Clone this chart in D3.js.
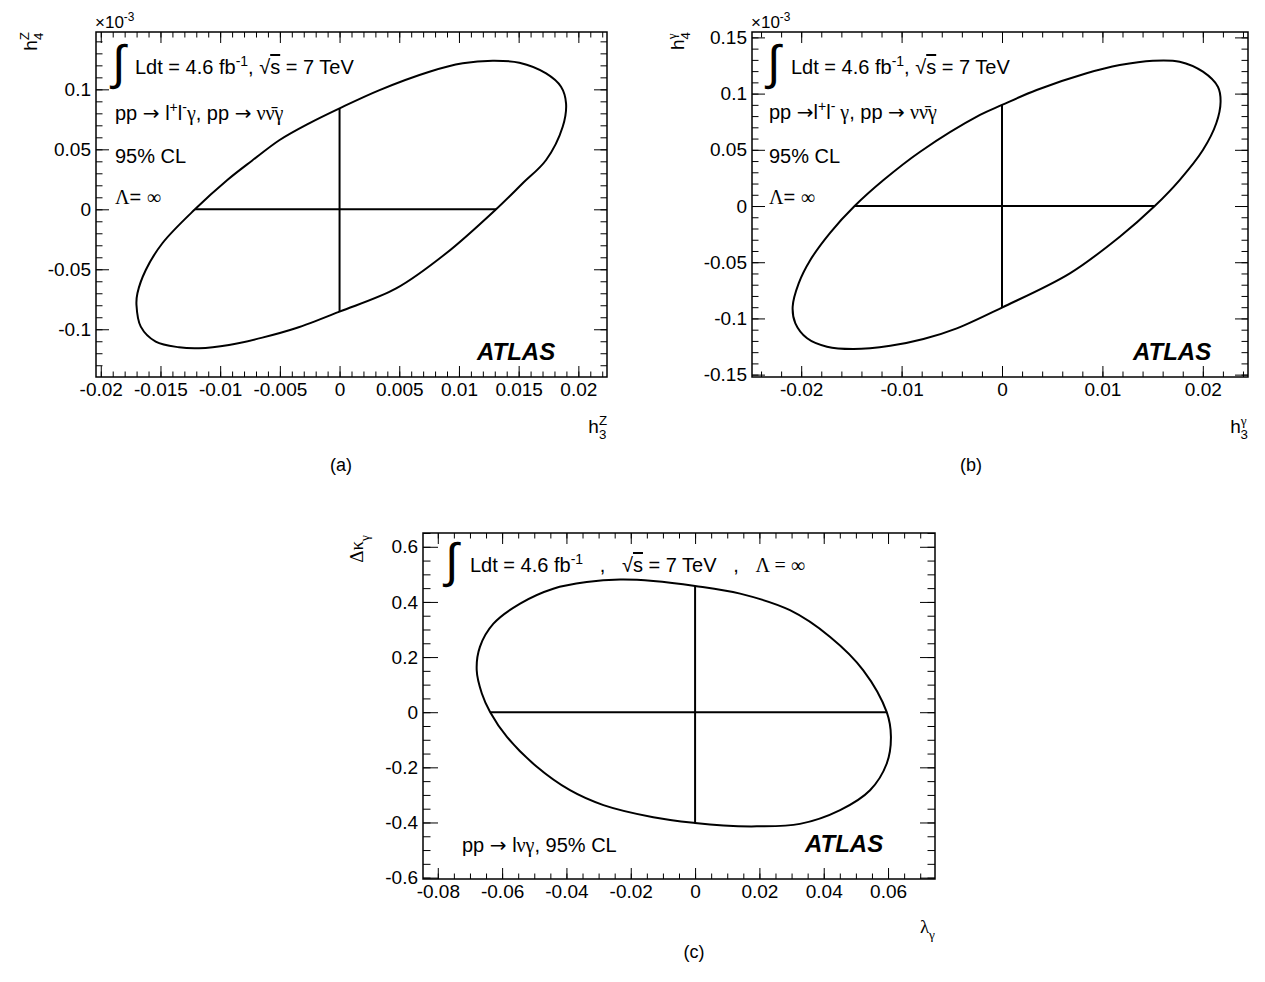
<!DOCTYPE html>
<html>
<head>
<meta charset="utf-8">
<script src="https://cdn.jsdelivr.net/npm/d3@7"></script>
<style>
  body { margin: 0; background: #fff; }
  svg text { font-family: "Liberation Sans", Arial, Helvetica, sans-serif; fill: #000; }
</style>
</head>
<body>
<svg id="chart" width="1265" height="982"></svg>
<script>
// 95% CL contours (x, y) -- going clockwise
const contourZ = [
  [-0.01211, 0], [-0.00940, 0.0244], [-0.00736, 0.0403], [-0.00502, 0.0578], [-0.00251, 0.0719],
  [0, 0.0842], [0.00335, 0.0994], [0.00753, 0.1147], [0.01032, 0.1217], [0.01283, 0.1238],
  [0.01506, 0.1222], [0.01730, 0.1133], [0.01855, 0.1022], [0.01897, 0.0883], [0.01869, 0.0688],
  [0.01730, 0.0411], [0.01534, 0.0217], [0.01311, 0], [0.00893, -0.0367], [0.00474, -0.0660],
  [0, -0.0853], [-0.00368, -0.0992], [-0.00647, -0.1070], [-0.00926, -0.1131], [-0.01177, -0.1158],
  [-0.01345, -0.1150], [-0.01540, -0.1103], [-0.01665, -0.0978], [-0.01701, -0.0798], [-0.01693, -0.0700],
  [-0.01623, -0.0506], [-0.01484, -0.0283]
];
const contourGamma = [
  [-0.01468, 0], [-0.01180, 0.0231], [-0.00815, 0.0483], [-0.00219, 0.0810], [0, 0.0899],
  [0.00345, 0.1032], [0.00842, 0.1181], [0.01173, 0.1254], [0.01504, 0.1293], [0.01769, 0.1284],
  [0.02001, 0.1195], [0.02150, 0.1061], [0.02177, 0.0928], [0.02134, 0.0736], [0.02001, 0.0498],
  [0.01769, 0.0231], [0.01521, 0], [0.01173, -0.0273], [0.00676, -0.0599], [0, -0.0903],
  [-0.00450, -0.1088], [-0.00782, -0.1183], [-0.01113, -0.1243], [-0.01478, -0.1272], [-0.01743, -0.1252],
  [-0.01941, -0.1177], [-0.02058, -0.1044], [-0.02085, -0.0896], [-0.02025, -0.0688], [-0.01909, -0.0480],
  [-0.01710, -0.0236]
];
const contourW = [
  [-0.0637, 0], [-0.0663, 0.068], [-0.0679, 0.152], [-0.0669, 0.237], [-0.0627, 0.321],
  [-0.0544, 0.394], [-0.0441, 0.448], [-0.0337, 0.472], [-0.0233, 0.481], [-0.0130, 0.476],
  [0, 0.458], [0.0140, 0.430], [0.0295, 0.370], [0.0420, 0.273], [0.0523, 0.152],
  [0.0596, 0], [0.0609, -0.0895], [0.0596, -0.186], [0.0544, -0.283], [0.0451, -0.355],
  [0.0326, -0.405], [0.0192, -0.414], [0.0088, -0.411], [0, -0.402], [-0.0130, -0.381],
  [-0.0285, -0.337], [-0.0389, -0.283], [-0.0492, -0.198], [-0.0585, -0.0895]
];

// one-dimensional limits (drawn as the cross)
const limitsZx = [-0.0121, 0.0131];
const limitsZy = [-0.0853, 0.0842];
const limitsGx = [-0.0147, 0.0152];
const limitsGy = [-0.0903, 0.0899];
const limitsWx = [-0.0637, 0.0596];
const limitsWy = [-0.402, 0.458];

// axis ticks
const ticksZx = [-0.02, -0.015, -0.01, -0.005, 0, 0.005, 0.01, 0.015, 0.02];
const labelsZx = ['-0.02', '-0.015', '-0.01', '-0.005', '0', '0.005', '0.01', '0.015', '0.02'];
const ticksZy = [-0.1, -0.05, 0, 0.05, 0.1];
const labelsZy = ['-0.1', '-0.05', '0', '0.05', '0.1'];
const ticksGx = [-0.02, -0.01, 0, 0.01, 0.02];
const labelsGx = ['-0.02', '-0.01', '0', '0.01', '0.02'];
const ticksGy = [-0.15, -0.1, -0.05, 0, 0.05, 0.1, 0.15];
const labelsGy = ['-0.15', '-0.1', '-0.05', '0', '0.05', '0.1', '0.15'];
const ticksWx = [-0.08, -0.06, -0.04, -0.02, 0, 0.02, 0.04, 0.06];
const labelsWx = ['-0.08', '-0.06', '-0.04', '-0.02', '0', '0.02', '0.04', '0.06'];
const ticksWy = [-0.6, -0.4, -0.2, 0, 0.2, 0.4, 0.6];
const labelsWy = ['-0.6', '-0.4', '-0.2', '0', '0.2', '0.4', '0.6'];

const svg = d3.select('#chart');
const serif = '"Liberation Serif", "Times New Roman", serif';
const textSize = 20;
const tickFont = 19;

// ROOT-like text with super/subscripts
function rich(parent, x, y, parts, size) {
  const t = parent.append('text')
    .attr('x', x).attr('y', y)
    .attr('font-size', size)
    .style('white-space', 'pre');
  let shift = 0;
  parts.forEach(p => {
    const sp = t.append('tspan').text(p.t);
    let target = 0;
    let fs = size;
    if (p.sup) { target = -0.42 * size; fs = 0.7 * size; }
    if (p.sub) { target = 0.3 * size; fs = 0.7 * size; }
    sp.attr('dy', target - shift).attr('font-size', fs);
    shift = target;
    if (p.back) sp.attr('dx', -p.back);
    if (p.serif) sp.attr('font-family', serif);
    if (p.arrow) sp.attr('font-family', '"DejaVu Sans", sans-serif');
    if (p.over) sp.style('text-decoration', 'overline');
  });
  return t;
}

function minorRange(step, domain) {
  const lo = Math.ceil(domain[0] / step - 1e-6), hi = Math.floor(domain[1] / step + 1e-6);
  return d3.range(lo, hi + 1).map(k => +(k * step).toFixed(6));
}

function cleanAxis(g) {
  g.attr('font-size', null).attr('font-family', null);
  g.select('.domain').remove();
  g.selectAll('line').attr('stroke', '#000').attr('stroke-width', 1);
  g.selectAll('text').attr('font-size', tickFont);
}

function drawPanel(p) {
  const w = p.right - p.left, h = p.bottom - p.top;
  const x = d3.scaleLinear().domain(p.xDomain).range([0, w]);
  const y = d3.scaleLinear().domain(p.yDomain).range([h, 0]);
  const g = svg.append('g').attr('transform', `translate(${p.left},${p.top})`);

  const minX = minorRange(p.xMinor, p.xDomain);
  const minY = minorRange(p.yMinor, p.yDomain);

  // minor ticks on all four sides
  g.append('g').attr('transform', `translate(0,${h})`)
    .call(d3.axisBottom(x).tickValues(minX).tickSize(-p.xLen / 2).tickFormat('')).call(cleanAxis);
  g.append('g')
    .call(d3.axisTop(x).tickValues(minX).tickSize(-p.xLen / 2).tickFormat('')).call(cleanAxis);
  g.append('g')
    .call(d3.axisLeft(y).tickValues(minY).tickSize(-p.yLen / 2).tickFormat('')).call(cleanAxis);
  g.append('g').attr('transform', `translate(${w},0)`)
    .call(d3.axisRight(y).tickValues(minY).tickSize(-p.yLen / 2).tickFormat('')).call(cleanAxis);

  // major ticks with labels
  g.append('g').attr('transform', `translate(0,${h})`)
    .call(d3.axisBottom(x).tickValues(p.xTicks).tickSize(-p.xLen).tickPadding(6)
      .tickFormat((d, i) => p.xLabels[i])).call(cleanAxis);
  g.append('g')
    .call(d3.axisTop(x).tickValues(p.xTicks).tickSize(-p.xLen).tickFormat('')).call(cleanAxis);
  g.append('g')
    .call(d3.axisLeft(y).tickValues(p.yTicks).tickSize(-p.yLen).tickPadding(5)
      .tickFormat((d, i) => p.yLabels[i])).call(cleanAxis);
  g.append('g').attr('transform', `translate(${w},0)`)
    .call(d3.axisRight(y).tickValues(p.yTicks).tickSize(-p.yLen).tickFormat('')).call(cleanAxis);

  // frame
  g.append('rect').attr('width', w).attr('height', h)
    .attr('fill', 'none').attr('stroke', '#000').attr('stroke-width', 1.5);

  // contour
  const line = d3.line().x(d => x(d[0])).y(d => y(d[1]))
    .curve(d3.curveCatmullRomClosed.alpha(0.5));
  g.append('path').datum(p.contour).attr('d', line)
    .attr('fill', 'none').attr('stroke', '#000').attr('stroke-width', 2);

  // 1D limits cross
  g.append('line')
    .attr('x1', x(p.limX[0])).attr('x2', x(p.limX[1]))
    .attr('y1', y(0)).attr('y2', y(0))
    .attr('stroke', '#000').attr('stroke-width', 2);
  g.append('line')
    .attr('x1', x(0)).attr('x2', x(0))
    .attr('y1', y(p.limY[0])).attr('y2', y(p.limY[1]))
    .attr('stroke', '#000').attr('stroke-width', 2);

  return g;
}

function integral(x, y) {
  svg.append('text').attr('x', x).attr('y', y)
    .attr('font-family', serif).attr('font-size', 48).text('\u222B');
}

function atlas(x, y) {
  svg.append('text').attr('x', x).attr('y', y)
    .attr('font-size', 24).attr('font-weight', 'bold').attr('font-style', 'italic')
    .text('ATLAS');
}

function yTitle(x, y, parts) {
  const g = svg.append('g').attr('transform', `translate(${x},${y}) rotate(-90)`);
  rich(g, 0, 0, parts, 19).attr('text-anchor', 'end');
}

const lumiParts = [{ t: 'Ldt = 4.6 fb' }, { t: '-1', sup: 1 }, { t: ', \u221A' }, { t: 's', over: 1 }, { t: ' = 7 TeV' }];
const nubar = '\u03BD\u0304';

// ---------- (a) Z ----------
drawPanel({
  left: 96, top: 32, right: 607, bottom: 377,
  xDomain: [-0.0204, 0.0224], yDomain: [-0.1398, 0.1478],
  xTicks: ticksZx, xLabels: labelsZx, xMinor: 0.001,
  yTicks: ticksZy, yLabels: labelsZy, yMinor: 0.01,
  xLen: 11, yLen: 13,
  contour: contourZ, limX: limitsZx, limY: limitsZy
});
rich(svg, 95, 28, [{ t: '\u00D710' }, { t: '-3', sup: 1 }], 17);
yTitle(37, 32, [{ t: 'h' }, { t: 'Z', sup: 1 }, { t: '4', sub: 1, back: 8 }]);
rich(svg, 607, 433, [{ t: 'h' }, { t: 'Z', sup: 1 }, { t: '3', sub: 1, back: 8 }], 19).attr('text-anchor', 'end');
integral(112, 79);
rich(svg, 135, 74, lumiParts, textSize);
rich(svg, 115, 120, [{ t: 'pp ' }, { t: '\u2192', arrow: 1 }, { t: ' l' }, { t: '+', sup: 1 }, { t: 'l' }, { t: '-', sup: 1 },
  { t: '\u03B3', serif: 1 }, { t: ', pp ' }, { t: '\u2192', arrow: 1 }, { t: ' \u03BD' + nubar + '\u03B3', serif: 1 }], textSize);
rich(svg, 115, 163, [{ t: '95% CL' }], textSize);
rich(svg, 115, 204, [{ t: '\u039B', serif: 1 }, { t: '= ' }, { t: '\u221E', serif: 1 }], textSize);
atlas(477, 360);

// ---------- (b) gamma ----------
drawPanel({
  left: 752, top: 32, right: 1248, bottom: 377,
  xDomain: [-0.0249, 0.0245], yDomain: [-0.1521, 0.1548],
  xTicks: ticksGx, xLabels: labelsGx, xMinor: 0.002,
  yTicks: ticksGy, yLabels: labelsGy, yMinor: 0.01,
  xLen: 11, yLen: 13,
  contour: contourGamma, limX: limitsGx, limY: limitsGy
});
rich(svg, 751, 28, [{ t: '\u00D710' }, { t: '-3', sup: 1 }], 17);
yTitle(684, 32, [{ t: 'h' }, { t: '\u03B3', sup: 1, serif: 1 }, { t: '4', sub: 1, back: 6 }]);
rich(svg, 1248, 433, [{ t: 'h' }, { t: '\u03B3', sup: 1, serif: 1 }, { t: '3', sub: 1, back: 6 }], 19).attr('text-anchor', 'end');
integral(767, 79);
rich(svg, 791, 74, lumiParts, textSize);
rich(svg, 769, 119, [{ t: 'pp ' }, { t: '\u2192', arrow: 1 }, { t: 'l' }, { t: '+', sup: 1 }, { t: 'l' }, { t: '-', sup: 1 },
  { t: ' \u03B3', serif: 1 }, { t: ', pp ' }, { t: '\u2192', arrow: 1 }, { t: ' \u03BD' + nubar + '\u03B3', serif: 1 }], textSize);
rich(svg, 769, 163, [{ t: '95% CL' }], textSize);
rich(svg, 769, 204, [{ t: '\u039B', serif: 1 }, { t: '= ' }, { t: '\u221E', serif: 1 }], textSize);
atlas(1133, 360);

// ---------- (c) W ----------
drawPanel({
  left: 423, top: 533, right: 935, bottom: 879,
  xDomain: [-0.0846, 0.0746], yDomain: [-0.605, 0.65],
  xTicks: ticksWx, xLabels: labelsWx, xMinor: 0.005,
  yTicks: ticksWy, yLabels: labelsWy, yMinor: 0.05,
  xLen: 11, yLen: 15,
  contour: contourW, limX: limitsWx, limY: limitsWy
});
yTitle(363, 535, [{ t: '\u0394\u03BA', serif: 1 }, { t: '\u03B3', sub: 1, serif: 1 }]);
rich(svg, 935, 933, [{ t: '\u03BB', serif: 1 }, { t: '\u03B3', sub: 1, serif: 1 }], 19).attr('text-anchor', 'end');
integral(445, 577);
rich(svg, 470, 572, [{ t: 'Ldt = 4.6 fb' }, { t: '-1', sup: 1 }, { t: '   ,   \u221A' }, { t: 's', over: 1 }, { t: ' = 7 TeV   ,   ' },
  { t: '\u039B = \u221E', serif: 1 }], textSize);
rich(svg, 462, 852, [{ t: 'pp ' }, { t: '\u2192', arrow: 1 }, { t: ' l' }, { t: '\u03BD\u03B3', serif: 1 }, { t: ', 95% CL' }], textSize);
atlas(805, 852);

// captions
const captions = [['(a)', 341, 471], ['(b)', 971, 471], ['(c)', 694, 958]];
captions.forEach(c => {
  svg.append('text').attr('x', c[1]).attr('y', c[2]).attr('text-anchor', 'middle')
    .attr('font-family', serif).attr('font-size', 18).text(c[0]);
});
</script>
</body>
</html>
